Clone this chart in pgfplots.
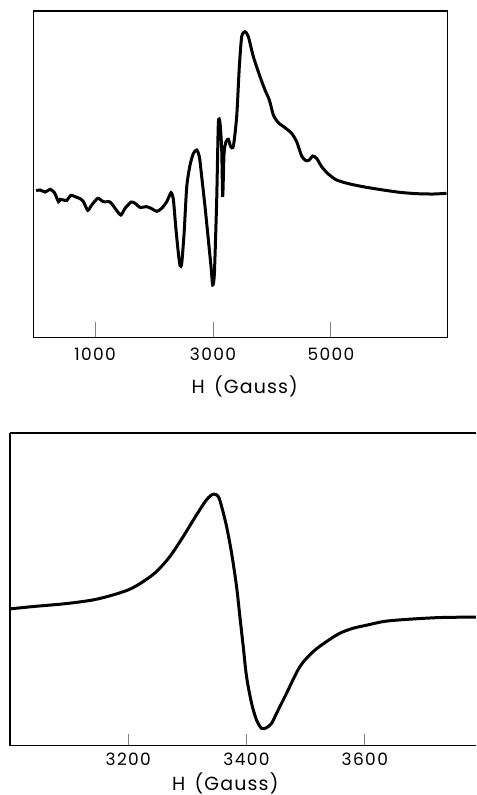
\documentclass[border=0pt]{standalone}
\usepackage{fontspec}
\setmainfont{Poppins}
\usepackage{pgfplots}
\pgfplotsset{compat=1.18}

\begin{document}
\begin{tikzpicture}
\path[use as bounding box] (0,0) rectangle (238pt,397.5pt);
\pgfplotsset{
  every axis/.append style={
    scale only axis,
    axis line style={line width=0.6pt},
    ytick=\empty,
    tick align=inside,
    major tick style={line width=0.5pt},
    /pgf/number format/assume math mode=true,
    /pgf/number format/1000 sep={},
    ymin=0,
    tick label style={font=\fontsize{8.5}{10}\selectfont\addfontfeature{LetterSpace=8}},
    label style={font=\fontsize{9.5}{11}\selectfont\addfontfeature{LetterSpace=6}},
  }
}
% upper spectrum
\begin{axis}[
  at={(16.75pt,228.65pt)}, anchor=south west,
  width=207.1pt, height=163.35pt,
  xmin=-45, xmax=6980, ymax=980,
  xtick={1000,3000,5000}, xtick pos=bottom,
  major tick length=8pt,
  xticklabel style={anchor=center, yshift=-8.5pt},
  xlabel={H \,(Gauss)},
  xlabel style={at={(axis description cs:0.51,-0.15)}, anchor=center},
]
\addplot[black, line width=1.5pt, smooth, tension=0.4] coordinates {
(0,441) (68,443) (152,437) (237,445) (311,435) (378,408) (407,415)
(463,413) (520,412) (588,427) (661,423) (746,417) (802,408) (876,382)
(943,398) (1045,418) (1141,408) (1254,407) (1339,388) (1435,368)
(1508,388) (1610,407) (1678,403) (1763,391) (1876,393) (1960,387)
(2045,379) (2130,388) (2215,408) (2288,435) (2328,413) (2367,333)
(2412,253) (2441,216) (2469,223) (2509,313) (2554,453) (2610,518)
(2667,553) (2723,563) (2768,543) (2808,483) (2864,393) (2921,293)
(2966,213) (2994,158) (3023,193) (3062,413) (3090,643) (3119,643)
(3147,563) (3164,423) (3187,553) (3220,588) (3260,595) (3300,573)
(3345,575) (3401,663) (3446,813) (3486,903) (3542,918) (3599,903)
(3684,843) (3797,783) (3881,743) (3955,713) (4023,668) (4107,645)
(4220,630) (4333,613) (4418,588) (4503,545) (4576,531) (4633,533)
(4689,545) (4757,538) (4842,513) (4955,491) (5096,473) (5322,461)
(5605,451) (5887,443) (6170,436) (6452,432) (6735,431) (6960,433)
};
\end{axis}
% lower spectrum
\begin{axis}[
  at={(5pt,24.65pt)}, anchor=south west,
  width=233pt, height=156.35pt,
  axis x line*=box, axis y line*=left,
  xmin=3000, xmax=3788, ymax=937,
  xtick={3200,3400,3600}, xtick pos=bottom, ytick=\empty,
  major tick length=6pt,
  xticklabel style={anchor=center, yshift=-7pt},
  xlabel={H \,(Gauss)},
  xlabel style={at={(axis description cs:0.462,-0.122)}, anchor=center},
]
\addplot[black, line width=1.5pt, smooth, tension=0.5] coordinates {
(3000,410) (3039.4,417) (3095.8,426) (3140.9,437) (3174.7,452)
(3202.8,469) (3225.4,492) (3247.9,522) (3270.4,567) (3293,627)
(3315.5,692) (3332.4,737) (3343.7,754) (3352.1,747) (3357.8,717)
(3366.2,657) (3374.7,577) (3383.1,477) (3388.7,387) (3394.4,297)
(3400,207) (3408.5,127) (3416.9,77) (3425.4,52) (3433.8,54)
(3442.3,67) (3450.7,97) (3467.6,157) (3490.2,237) (3512.7,282)
(3535.2,312) (3557.8,337) (3580.3,352) (3602.8,361) (3631,372)
(3659.2,377) (3693,381) (3726.8,384) (3760.6,385) (3787.6,385)
};
\end{axis}
\end{tikzpicture}
\end{document}
